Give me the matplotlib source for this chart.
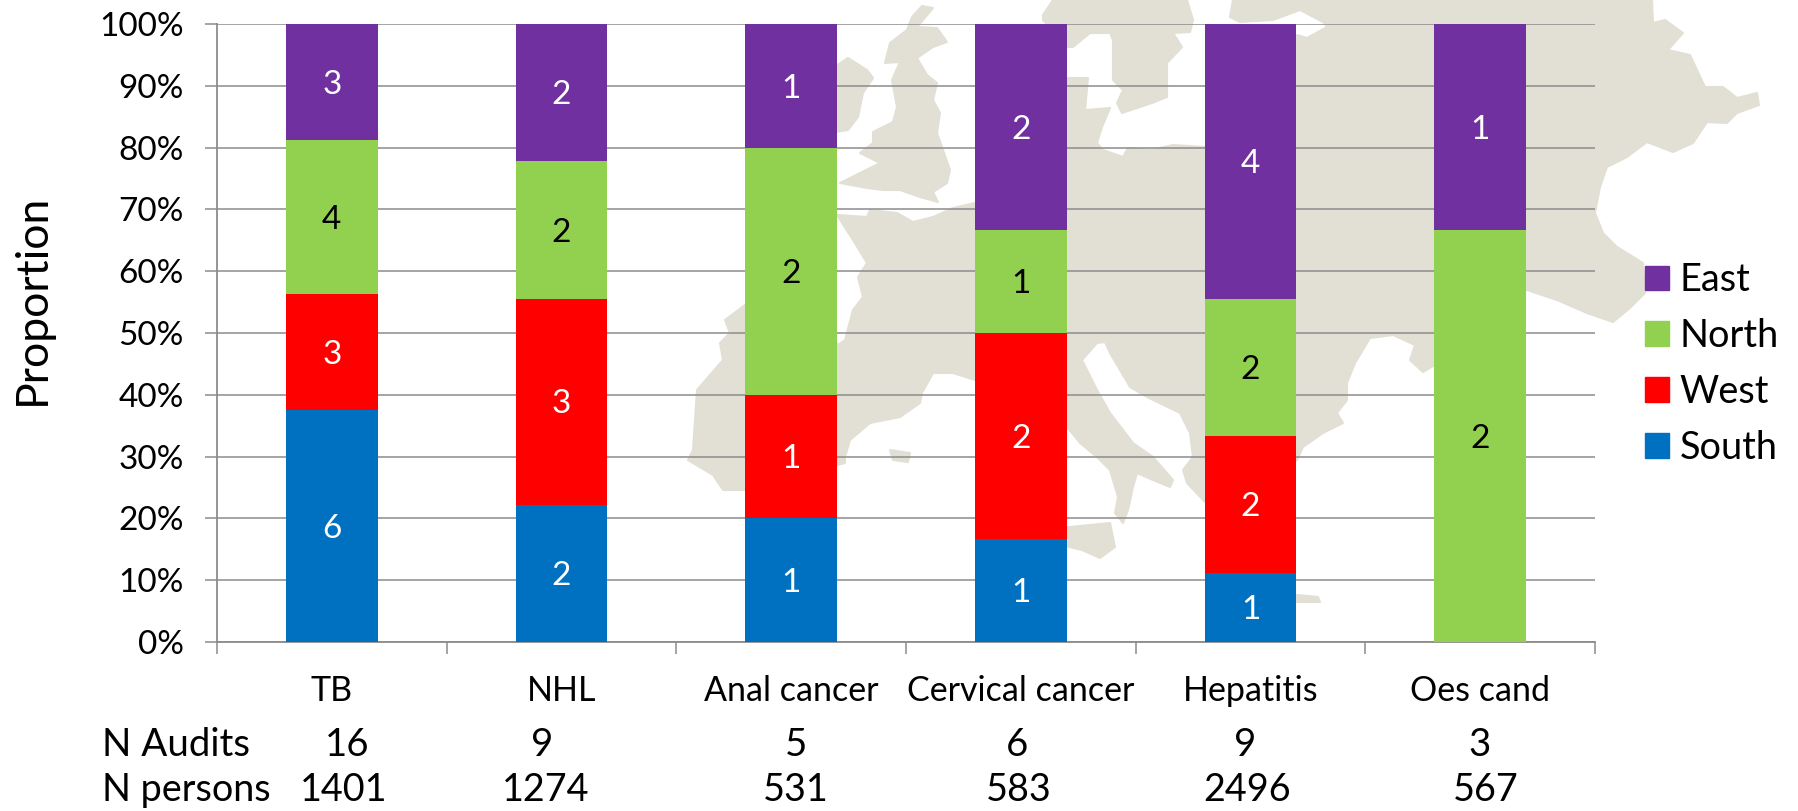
import matplotlib
matplotlib.use('Agg')
import matplotlib.pyplot as plt
from matplotlib.patches import Polygon, Patch
import numpy as np

W, H = 1799, 811
plt.rcParams['font.family'] = ['Lato', 'DejaVu Sans']

categories = ['TB', 'NHL', 'Anal cancer', 'Cervical cancer', 'Hepatitis', 'Oes cand']
south = [6, 2, 1, 1, 1, 0]
west = [3, 3, 1, 2, 2, 0]
north = [4, 2, 2, 1, 2, 2]
east = [3, 2, 1, 2, 4, 1]
n_audits = ['16', '9', '5', '6', '9', '3']
n_persons = ['1401', '1274', '531', '583', '2496', '567']

region_names = ['South', 'West', 'North', 'East']
region_colors = ['#0070C0', '#FF0000', '#92D050', '#7030A0']
label_colors = ['white', 'white', 'black', 'white']
map_color = '#E2E0D5'
grid_color = '#8C8C8C'

# background map outline, figure pixels
mainland = [(837,215),(867,217),(870,210),(897,213),(913,222),(933,217),(953,208),(975,203),(1067,143),
            (1067,78),(1088,78),(1085,110),(1110,108),(1102,127),(1097,143),(1103,150),(1123,157),(1128,148),
            (1150,150),(1173,145),(1205,147),(1297,35),(1307,38),(1327,27),(1323,22),(1300,10),(1273,20),
            (1240,22),(1230,17),(1233,0),(1652,0),(1653,23),(1665,20),(1683,33),(1668,50),(1690,55),(1705,87),
            (1723,87),(1737,98),(1757,93),(1759,105),(1737,113),(1727,123),(1707,122),(1693,143),(1673,152),
            (1647,142),(1627,157),(1607,167),(1600,187),(1595,213),(1603,233),(1617,247),(1643,263),(1645,293),
            (1630,308),(1613,322),(1587,313),(1557,300),(1527,290),(1480,300),(1435,365),(1423,372),(1410,360),
            (1415,345),(1393,335),(1370,338),(1355,363),(1347,383),(1347,400),(1337,413),(1343,423),(1323,433),
            (1303,447),(1297,460),(1250,490),(1205,502),(1187,483),(1183,470),(1193,457),(1190,433),(1180,413),
            (1147,397),(1130,387),(1110,353),(1105,342),(1097,343),(1082,360),(1097,390),(1110,413),(1133,443),
            (1153,457),(1173,480),(1170,487),(1153,480),(1137,473),(1133,487),(1128,510),(1123,523),(1115,513),
            (1118,497),(1110,470),(1097,457),(1080,443),(1067,427),(975,380),(953,373),(933,373),(922,393),
            (920,403),(900,417),(870,423),(850,440),(845,457),(845,463),(837,465),(760,490),(723,490),(713,475),
            (688,460),(693,450),(697,390),(723,360),(720,343),(730,333),(725,320),(745,305),(830,335),(838,345),
            (845,340),(853,310),(863,297),(858,277),(867,263),(853,240)]
scandinavia = [(1043,15),(1053,0),(1187,0),(1193,20),(1190,32),(1173,33),(1182,47),(1167,63),(1167,97),(1152,103),
               (1122,113),(1117,103),(1123,90),(1113,80),(1113,40),(1110,33),(1090,33),(1073,47),(1067,47),(1043,20)]
britain = [(922,6),(933,8),(923,20),(917,27),(937,28),(947,42),(933,47),(917,58),(927,75),(937,83),(933,100),
           (940,113),(937,133),(943,150),(950,170),(947,183),(933,192),(938,202),(920,197),(900,190),(883,190),
           (867,188),(840,183),(860,173),(880,163),(860,153),(873,143),(873,132),(893,122),(897,107),(892,80),
           (900,62),(885,63),(890,43),(907,30),(912,17)]
ireland = [(830,70),(848,58),(867,70),(873,78),(863,93),(858,117),(848,130),(830,133)]
sicily = [(1040,530),(1110,523),(1115,547),(1100,558),(1082,550),(1040,540)]
balearic = [(890,450),(910,453),(908,462),(893,460)]
crete = [(1297,595),(1318,597),(1320,602),(1297,602)]

fig = plt.figure(figsize=(W / 100, H / 100), dpi=100)

bg = fig.add_axes([0, 0, 1, 1], zorder=0)
bg.set_xlim(0, W)
bg.set_ylim(H, 0)
bg.axis('off')
for shape in [mainland, scandinavia, britain, ireland, sicily, balearic, crete]:
    bg.add_patch(Polygon(shape, closed=True, facecolor=map_color, edgecolor=map_color, lw=1.5, joinstyle='round'))

ax = fig.add_axes([217 / W, 1 - 642 / H, (1595 - 217) / W, (642 - 24) / H], zorder=1)
ax.patch.set_visible(False)

x = np.arange(len(categories))
series = [np.array(s, dtype=float) for s in [south, west, north, east]]
totals = sum(series)
bottom = np.zeros(len(categories))
for s, name, col, lcol in zip(series, region_names, region_colors, label_colors):
    share = s / totals
    ax.bar(x, share, 0.4, bottom=bottom, color=col, label=name, zorder=3)
    for xi, b, h, v in zip(x, bottom, share, s):
        if v > 0:
            ax.annotate(str(int(v)), (xi, b + h / 2), xytext=(0, -2), textcoords='offset points',
                        ha='center', va='center', color=lcol, fontsize=24, zorder=4)
    bottom = bottom + share

ax.set_xlim(-0.5, len(categories) - 0.5)
ax.set_ylim(0, 1)
ax.set_yticks(np.arange(0, 1.01, 0.1))
ax.set_yticklabels([str(i * 10) + '%' for i in range(11)], fontsize=24)
ax.set_xticks(np.arange(-0.5, len(categories), 1))
ax.set_xticklabels([])
ax.set_xticks(x, minor=True)
ax.set_xticklabels(categories, minor=True, fontsize=24.5)
ax.tick_params(axis='x', which='minor', length=0, pad=24)
ax.tick_params(axis='x', which='major', length=8.5, width=1.1, color=grid_color)
ax.tick_params(axis='y', length=8.5, width=1.1, color=grid_color, pad=15.5)
ax.grid(axis='y', color=grid_color, lw=1.1)
ax.set_axisbelow(True)
for side in ['top', 'right']:
    ax.spines[side].set_visible(False)
for side in ['left', 'bottom']:
    ax.spines[side].set_color(grid_color)
    ax.spines[side].set_linewidth(1.3)

fig.text(32 / W, 1 - 299 / H, 'Proportion', rotation=90, ha='center', va='center', fontsize=32)

# rows under the chart, bottom row sits just inside the figure edge
audit_x = [347, 542, 796, 1017, 1245, 1480]
person_x = [344, 546, 796, 1019, 1247, 1486]
fig.text(102 / W, 1 - 745 / H, 'N Audits', ha='left', va='center', fontsize=27.7)
fig.text(102 / W, 1 - 801 / H, 'N persons', ha='left', va='baseline', fontsize=27.2)
for px, t in zip(audit_x, n_audits):
    fig.text(px / W, 1 - 745 / H, t, ha='center', va='center', fontsize=27.7)
for px, t in zip(person_x, n_persons):
    fig.text(px / W, 1 - 801 / H, t, ha='center', va='baseline', fontsize=27.2)

handles = [Patch(color=c, label=n) for c, n in zip(region_colors, region_names)][::-1]
fig.legend(handles=handles, loc='center left', bbox_to_anchor=(1645 / W, 1 - 364 / H), frameon=False, fontsize=27.3,
           handlelength=0.63, handleheight=0.63, handletextpad=0.28, labelspacing=0.52, borderpad=0, borderaxespad=0)

fig.savefig('out.png', dpi=100)
